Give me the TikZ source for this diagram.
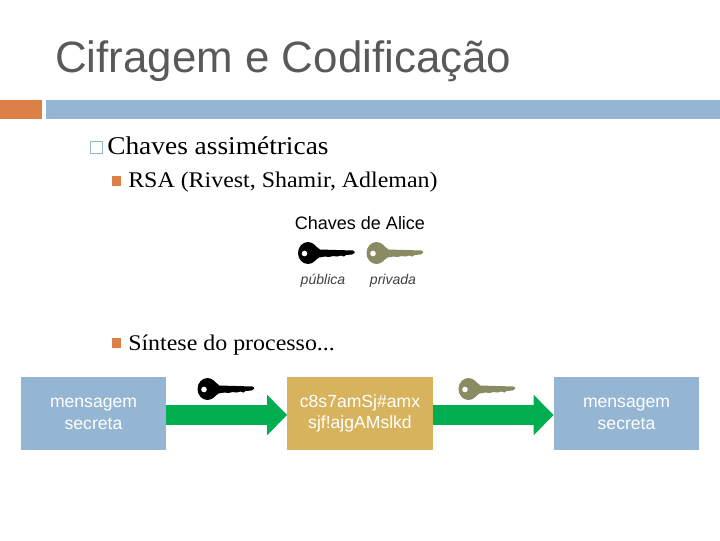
\documentclass[tikz,border=0pt]{standalone}
\usepackage{fontspec}
\usepackage{tikz}
\usetikzlibrary{arrows.meta}
\setmainfont{Liberation Sans}
\newfontfamily\corpo[FakeStretch=1.07]{Liberation Serif}

\definecolor{laranja}{HTML}{DD8047}
\definecolor{azul}{HTML}{94B6D2}
\definecolor{ouro}{HTML}{D6B35C}
\definecolor{verde}{HTML}{00AE50}
\definecolor{oliva}{HTML}{8B8B63}
\definecolor{titulo}{HTML}{595959}

\tikzset{
	caixa/.style={draw=none, minimum width=3.625cm, minimum height=1.825cm, align=center, inner sep=0pt, text=white, font=\fontsize{12.5}{15.5}\selectfont},
	seta/.style={draw=verde, fill=verde, line width=0.5cm, -{Triangle[length=0.5cm, width=0.975cm, fill=verde]}},
	item/.style={anchor=base west, inner sep=0pt, font=\corpo\fontsize{18.2}{20}\selectfont},
	subitem/.style={anchor=base west, inner sep=0pt, font=\corpo\fontsize{15.9}{18}\selectfont},
	legenda/.style={inner sep=0pt, text=black!75, font=\fontsize{10}{12}\selectfont\itshape},
	pics/chave/.style={code={
		\fill[#1] (0,0) ellipse (10 and 11);
		\fill[#1] (5,-9) -- (12,-3.5) -- (45,-2.5) -- (46.5,-1.5) -- (46.5,0) -- (44,1.5) -- (38,2) -- (36,3.5) -- (33,2.5) -- (29,3.5) -- (25,3) -- (21,4) -- (17,3.5) -- (11,4.5) -- (5,9) -- cycle;
		\fill[white] (-3.5,0.5) circle (2.8);
	}}
}

\begin{document}
\begin{tikzpicture}[x=0.025cm, y=-0.025cm]
	\useasboundingbox (0,0) rectangle (720,540);

	% titulo e barras
	\node (titulo) at (55,61) [anchor=west, inner sep=0pt, text=titulo, font=\fontsize{31.2}{34}\selectfont] {Cifragem e Codificação};
	\fill[laranja] (0,100) rectangle (42,119);
	\fill[azul] (46,100) rectangle (720,119);

	% texto
	\draw[azul, line width=0.5pt] (90.5,141.5) rectangle (102,153);
	\node (chaves) at (107,154) [item] {Chaves assimétricas};
	\fill[laranja] (112,176) rectangle (121,186);
	\node (rsa) at (128,187) [subitem] {RSA (Rivest, Shamir, Adleman)};
	\fill[laranja] (112,338) rectangle (121,348);
	\node (sintese) at (128,350) [subitem] {Síntese do processo...};

	% chaves de Alice
	\node (alice) at (360,223) [inner sep=0pt, font=\fontsize{12.8}{15}\selectfont] {Chaves de Alice};
	\pic at (308,253) {chave=black};
	\pic at (376.5,253) {chave=oliva};
	\node (publica) at (323,281) [legenda] {pública};
	\node (privada) at (393,281) [legenda] {privada};

	% processo
	\node (msg1) at (93.5,413.5) [caixa, fill=azul] {mensagem\\secreta};
	\node (cifra) at (360,413.5) [caixa, fill=ouro] {c8s7amSj\#amx\\sjf!ajgAMslkd};
	\node (msg2) at (626.5,413.5) [caixa, fill=azul] {mensagem\\secreta};

	\draw [seta] ([yshift=-0.0375cm]msg1.east) -- ([yshift=-0.0375cm]cifra.west);
	\draw [seta] ([yshift=-0.0375cm]cifra.east) -- ([yshift=-0.0375cm]msg2.west);

	\pic at (207.5,389) {chave=black};
	\pic at (468.5,389) {chave=oliva};
\end{tikzpicture}
\end{document}
